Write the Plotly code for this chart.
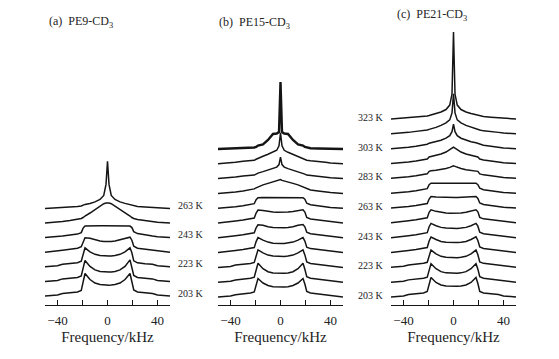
import plotly.graph_objects as go

# ---------------- data ----------------
freq_khz = [-50, -40, -36, -30, -24, -21, -19.5, -18, -14, -10, -6, -3, -1.2, 0,
            1.2, 3, 6, 10, 14, 18, 19.5, 21, 24, 30, 36, 40, 50]

# panel (a) PE9-CD3, bottom -> top
temps_a = [203, 213, 223, 233, 243, 253, 263]
pe9_203 = [0, 1, 2.5, 3.2, 4, 5.5, 14, 22.5, 16.5, 13, 11.5, 11, 10.8, 10.8, 10.8, 11, 11.5, 13, 16.5, 22.5, 15, 6, 4, 3.2, 2.5, 1, 0]
pe9_213 = [0, 1, 2.5, 3, 4, 5.5, 13, 21, 15, 11.5, 10, 9.5, 9.3, 9.3, 9.3, 9.5, 10, 11.5, 15, 21.5, 15, 6, 4, 3, 2.5, 1, 0]
pe9_223 = [0, 1, 2.5, 3, 4, 5.5, 12, 19, 15, 12.5, 11.2, 10.8, 10.7, 10.7, 10.7, 10.8, 11.2, 12.5, 15, 19, 14, 6, 4, 3, 2.5, 1, 0]
pe9_233 = [0, 1, 2, 3, 4, 5.5, 11, 14.5, 14, 12.5, 11.3, 10.8, 10.7, 10.7, 10.7, 10.8, 11.3, 12.5, 14, 15, 12, 6, 4, 3, 2, 1, 0]
pe9_243 = [0, 0.8, 1.5, 2.5, 3.5, 5, 9.5, 11.5, 11.8, 11.8, 11.8, 11.8, 11.8, 11.8, 11.8, 11.8, 11.8, 11.8, 11.8, 11.5, 10, 6, 4, 2.5, 1.5, 0.8, 0]
pe9_253 = [0, 0.8, 1.5, 2.5, 3.5, 4.5, 5.5, 7, 10, 13.5, 17, 19.3, 20, 20.2, 20, 19.3, 17, 13.5, 10, 7, 5.5, 4.5, 3.5, 2.5, 1.5, 0.8, 0]
pe9_263 = [0, 0.5, 1, 1.5, 2, 2.5, 3.5, 4, 5, 6.5, 9, 13, 24, 47, 24, 13, 9, 6.5, 5, 4, 3.5, 2.5, 2, 1.5, 1, 0.5, 0]

# panel (b) PE15-CD3, bottom -> top
temps_b = [203, 213, 223, 233, 243, 253, 263, 273, 283, 293, 303]
pe15_203 = [0, 1, 2.3, 3, 4, 5, 12, 18.5, 14, 11.5, 10.3, 10, 10, 10, 10, 10, 10.3, 11.5, 14, 18.5, 13, 5.5, 4, 3, 2.3, 1, 0]
pe15_213 = [0, 1, 2.3, 3, 4, 5, 12.5, 19, 13.5, 10.5, 9.3, 9, 9, 9, 9, 9, 9.3, 10.5, 13.5, 19, 13, 5.5, 4, 3, 2.3, 1, 0]
pe15_223 = [0, 1, 2.3, 3, 4, 5, 12, 17.5, 14.5, 12.3, 11.3, 11, 11, 11, 11, 11, 11.3, 12.3, 14.5, 17.5, 12.5, 5.5, 4, 3, 2.3, 1, 0]
pe15_233 = [0, 1, 2, 3, 4, 5, 11, 15, 12.5, 10.5, 9.4, 9, 9, 9, 9, 9, 9.4, 10.5, 12.5, 15, 11.5, 5.5, 4, 3, 2, 1, 0]
pe15_243 = [0, 1, 2, 3, 4, 5, 10, 13, 12.5, 11, 10.3, 10, 10, 10, 10, 10, 10.3, 11, 12.5, 13.3, 11, 5.5, 4, 3, 2, 1, 0]
pe15_253 = [0, 1, 2, 3, 4, 5, 10, 13, 12.5, 11.5, 11, 10.7, 10.7, 10.7, 10.7, 10.7, 11, 11.5, 12.5, 13.3, 11, 5.5, 4, 3, 2, 1, 0]
pe15_263 = [0, 0.8, 1.5, 2.5, 3.5, 4.5, 8.5, 10.5, 10.8, 10.7, 10.7, 10.7, 10.7, 10.7, 10.7, 10.7, 10.7, 10.7, 10.8, 10.5, 9, 5, 3.5, 2.5, 1.5, 0.8, 0]
pe15_273 = [0, 0.8, 1.5, 2.5, 3.5, 4.5, 5.5, 6.5, 8.5, 10, 11.5, 12.5, 13, 13.8, 13, 12.5, 11.5, 10, 8.5, 6.5, 5.5, 4.5, 3.5, 2.5, 1.5, 0.8, 0]
pe15_283 = [0, 0.8, 1.5, 2.5, 3, 3.5, 4.5, 5.5, 7, 8.5, 10, 11.5, 14, 21.5, 14, 11.5, 10, 8.5, 7, 5.5, 4.5, 3.5, 3, 2.5, 1.5, 0.8, 0]
pe15_293 = [0, 0.8, 1.5, 2.5, 3, 3.5, 4.5, 5.5, 7.5, 9.5, 11.5, 13.5, 18, 31, 18, 13.5, 11.5, 9.5, 7.5, 5.5, 4.5, 3.5, 3, 2.5, 1.5, 0.8, 0]
pe15_303 = [0, 0.3, 0.4, 0.5, 0.8, 1.5, 2, 3.5, 4.5, 9, 15, 15.5, 17, 67, 17, 15.5, 15, 9, 4.5, 3.5, 2, 1.5, 0.8, 0.5, 0.4, 0.3, 0]

# panel (c) PE21-CD3, bottom -> top
temps_c = [203, 213, 223, 233, 243, 253, 263, 273, 283, 293, 303, 313, 323]
pe21_203 = [0, 1, 2.5, 3.2, 4, 5.5, 13, 19.5, 14.5, 12, 11, 10.7, 10.7, 10.7, 10.7, 10.7, 11, 12, 14.5, 19.5, 13.5, 5.5, 4, 3.2, 2.5, 1, 0]
pe21_213 = [0, 1, 2.3, 3, 4, 5, 12.5, 18.5, 13.5, 10.5, 9.3, 9, 9, 9, 9, 9, 9.3, 10.5, 13.5, 18.5, 13, 5.5, 4, 3, 2.3, 1, 0]
pe21_223 = [0, 1, 2.3, 3, 4, 5, 12, 17.3, 13.5, 11, 10, 9.7, 9.7, 9.7, 9.7, 9.7, 10, 11, 13.5, 17.3, 12.5, 5.5, 4, 3, 2.3, 1, 0]
pe21_233 = [0, 1, 2, 3, 4, 5, 11.5, 15.5, 13, 11, 10.3, 10, 10, 10, 10, 10, 10.3, 11, 13, 15.7, 12, 5.5, 4, 3, 2, 1, 0]
pe21_243 = [0, 1, 2, 3, 4, 5, 11, 14.3, 12, 10.3, 9.6, 9.3, 9.3, 9.3, 9.3, 9.3, 9.6, 10.3, 12, 14.3, 11.5, 5.5, 4, 3, 2, 1, 0]
pe21_253 = [0, 1, 2, 3, 4, 5, 10.5, 13, 11.5, 10.5, 9.9, 9.7, 9.7, 9.7, 9.7, 9.7, 9.9, 10.5, 11.5, 13, 11, 5.5, 4, 3, 2, 1, 0]
pe21_263 = [0, 0.8, 1.5, 2.5, 3.5, 4.5, 9, 11.5, 11, 10.7, 10.6, 10.5, 10.5, 10.5, 10.5, 10.5, 10.6, 10.7, 11, 11.5, 9.5, 5, 3.5, 2.5, 1.5, 0.8, 0]
pe21_273 = [0, 0.8, 1.5, 2.5, 3.5, 4.5, 8.5, 10, 10, 10, 10.2, 10.4, 10.6, 10.7, 10.6, 10.4, 10.2, 10, 10, 10, 8.5, 5, 3.5, 2.5, 1.5, 0.8, 0]
pe21_283 = [0, 0.8, 1.5, 2.5, 3.5, 4.5, 7, 7.5, 8, 8.7, 9.8, 11, 12, 12.5, 12, 11, 9.8, 8.7, 8, 7.5, 7, 4.5, 3.5, 2.5, 1.5, 0.8, 0]
pe21_293 = [0, 0.8, 1.5, 2.5, 3.5, 4.5, 6.5, 7, 8, 9.5, 11.5, 13.5, 15.5, 16.5, 15.5, 13.5, 11.5, 9.5, 8, 7, 6.5, 4.5, 3.5, 2.5, 1.5, 0.8, 0]
pe21_303 = [0, 0.8, 1.5, 2.5, 3.5, 4.5, 5.5, 6, 7, 8.5, 10.5, 13, 17, 24.5, 17, 13, 10.5, 8.5, 7, 6, 5.5, 4.5, 3.5, 2.5, 1.5, 0.8, 0]
pe21_313 = [0, 0.8, 1.5, 2.5, 3, 3.8, 4.5, 5, 6.5, 8.5, 11, 14, 21, 40, 21, 14, 11, 8.5, 6.5, 5, 4.5, 3.8, 3, 2.5, 1.5, 0.8, 0]
pe21_323 = [0, 0.8, 1.3, 1.8, 2.5, 3, 3.5, 4, 5.5, 7, 9.5, 14, 25, 87, 25, 14, 9.5, 7, 5.5, 4, 3.5, 3, 2.5, 1.8, 1.3, 0.8, 0]

spectra_a = [pe9_203, pe9_213, pe9_223, pe9_233, pe9_243, pe9_253, pe9_263]
spectra_b = [pe15_203, pe15_213, pe15_223, pe15_233, pe15_243, pe15_253, pe15_263,
             pe15_273, pe15_283, pe15_293, pe15_303]
spectra_c = [pe21_203, pe21_213, pe21_223, pe21_233, pe21_243, pe21_253, pe21_263,
             pe21_273, pe21_283, pe21_293, pe21_303, pe21_313, pe21_323]

label_vals = [-40, 0, 40]
label_text = ["\u221240", "0", "40"]
long_minor_vals = [-20, 20]
short_tick_vals = [-30, -10, 10, 30]
titles = ["(a)  PE9-CD<sub>3</sub>", "(b)  PE15-CD<sub>3</sub>", "(c)  PE21-CD<sub>3</sub>"]

# ---------------- layout / style ----------------
# page body has an 8px margin; work in screen pixels and subtract it
OX, OY = 8, 8
W, H = 559 - 2 * OX, 359 - 2 * OY
AXIS_Y = 305 - OY          # pixel row of the frequency axes
TOP = 12
BOT = H - AXIS_Y
PLOT_H = H - TOP - BOT
FONT = "'Liberation Serif', 'Times New Roman', Times, serif"
LINE = "#151515"
TXT = "#222"

def px_x(x):
    return (x - OX) / W

panels = [
    dict(spectra=spectra_a, temps=temps_a, base=9.0, step=14.6, dom=(45, 170), xa="x"),
    dict(spectra=spectra_b, temps=temps_b, base=8.0, step=14.8, dom=(218, 343), xa="x2"),
    dict(spectra=spectra_c, temps=temps_c, base=8.0, step=14.83, dom=(391, 516), xa="x3"),
]

fig = go.Figure()
annotations = []
for p_i, p in enumerate(panels):
    n = len(p["spectra"])
    for i, (spec, t) in enumerate(zip(p["spectra"], p["temps"])):
        off = p["base"] + i * p["step"]
        bold = (p_i == 1 and i == n - 1)
        fig.add_trace(go.Scatter(
            x=freq_khz, y=[v + off for v in spec], xaxis=p["xa"], yaxis="y",
            mode="lines", line=dict(color=LINE, width=2.4 if bold else 1.5),
            showlegend=False, hoverinfo="skip", cliponaxis=False))
        if t in (203, 223, 243, 263, 283, 303, 323):
            if p_i == 0:
                annotations.append(dict(x=px_x(176), xref="paper", xanchor="left",
                                        y=off + 3, yref="y", text=f"{t} K",
                                        showarrow=False,
                                        font=dict(family=FONT, size=10, color=TXT)))
            elif p_i == 2:
                annotations.append(dict(x=px_x(386), xref="paper", xanchor="right",
                                        y=off + 1.5, yref="y", text=f"{t} K",
                                        showarrow=False,
                                        font=dict(family=FONT, size=10, color=TXT)))

title_pos = [(47, 22), (217, 23), (395, 15)]
for (tx, ty), txt in zip(title_pos, titles):
    annotations.append(dict(x=px_x(tx), xref="paper", xanchor="left",
                            y=(AXIS_Y - (ty - OY)) / PLOT_H, yref="paper", yanchor="middle",
                            text=txt, showarrow=False,
                            font=dict(family=FONT, size=12, color=TXT)))

def main_axis(dom):
    return dict(domain=[px_x(dom[0]), px_x(dom[1])], range=[-50, 50], anchor="y",
                showline=True, linecolor=LINE, linewidth=1.3, showgrid=False,
                zeroline=False, ticks="inside", ticklen=5, tickwidth=1,
                tickcolor=LINE, tickmode="array", tickvals=label_vals,
                ticktext=label_text, ticklabelstandoff=3,
                minor=dict(ticks="inside", ticklen=5, tickwidth=1, tickcolor=LINE,
                           tickmode="array", tickvals=long_minor_vals, showgrid=False),
                tickfont=dict(family=FONT, size=13, color=TXT),
                title=dict(text="Frequency/kHz", standoff=4,
                           font=dict(family=FONT, size=15, color=TXT)),
                fixedrange=True)

def short_axis(dom, over):
    return dict(domain=[px_x(dom[0]), px_x(dom[1])], range=[-50, 50], anchor="y",
                overlaying=over, showline=False, showgrid=False, zeroline=False,
                ticks="inside", ticklen=3, tickwidth=1, tickcolor=LINE,
                tickmode="array", tickvals=short_tick_vals, showticklabels=False,
                fixedrange=True)

fig.update_layout(
    width=W, height=H,
    margin=dict(l=0, r=0, t=TOP, b=BOT, pad=0),
    paper_bgcolor="white", plot_bgcolor="white",
    xaxis=main_axis(panels[0]["dom"]),
    xaxis2=main_axis(panels[1]["dom"]),
    xaxis3=main_axis(panels[2]["dom"]),
    xaxis4=short_axis(panels[0]["dom"], "x"),
    xaxis5=short_axis(panels[1]["dom"], "x2"),
    xaxis6=short_axis(panels[2]["dom"], "x3"),
    yaxis=dict(domain=[0, 1], range=[0, PLOT_H], visible=False, fixedrange=True,
               anchor="x"),
    annotations=annotations,
    showlegend=False,
)

fig.write_html("out.html")
